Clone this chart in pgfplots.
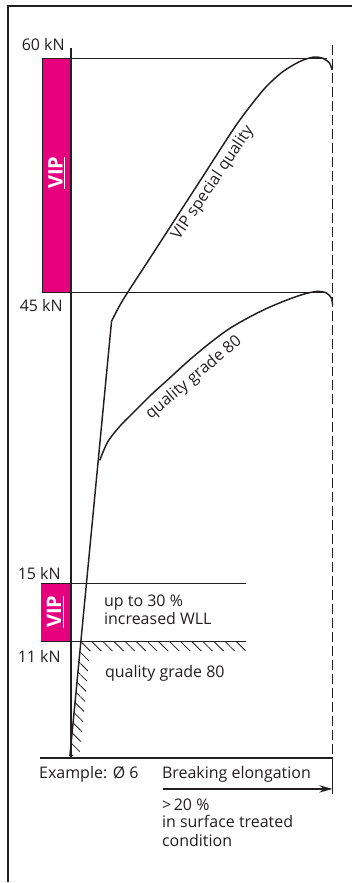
\documentclass[border=0pt]{standalone}
\usepackage{fontspec}
\setmainfont{Open Sans}
\usepackage{pgfplots}
\pgfplotsset{compat=1.18}
\usetikzlibrary{patterns.meta,arrows.meta}
\definecolor{vipmag}{RGB}{230,0,126}
\definecolor{ink}{RGB}{35,31,32}
\begin{document}
\begin{tikzpicture}
\begin{axis}[scale only axis, width=264pt, height=662.25pt,
  xmin=0, xmax=352, ymin=0, ymax=883, y dir=reverse,
  hide axis, clip=false]
\addplot[draw=none] coordinates {(0,0) (352,883)};
% outer frame
\addplot[line width=1.8pt, ink] coordinates {(352,6) (8,6) (8,883)};
% magenta VIP bars
\addplot[fill=vipmag, draw=ink, line width=0.5pt] coordinates {(42,58.5) (71,58.5) (71,292.5) (42,292.5)} -- cycle;
\addplot[fill=vipmag, draw=none] coordinates {(41,584) (71,584) (71,642) (41,642)} -- cycle;
% hatching
\addplot[draw=none, pattern={Lines[angle=-45,distance=5.9pt,line width=0.6pt]}, pattern color=ink]
  coordinates {(81.1,642) (246,642) (246,652) (90,652) (80,757) (70,757)} -- cycle;
% horizontal reference lines
\addplot[ink, line width=0.9pt] coordinates {(42,58.5) (327,58.5)};
\addplot[ink, line width=0.9pt] coordinates {(42,292.5) (326,292.5)};
\addplot[ink, line width=0.8pt] coordinates {(41,584) (246,584)};
\addplot[ink, line width=0.9pt] coordinates {(41,642) (246,642)};
\addplot[ink, line width=1.1pt] coordinates {(40,759) (333,759)};
% vertical axis line
\addplot[ink, line width=0.9pt] coordinates {(71,48) (71,759)};
% dashed limit line
\addplot[ink, line width=0.8pt, dash pattern=on 7.5pt off 3pt] coordinates {(333,45) (333,759)};
\addplot[ink, line width=0.8pt] coordinates {(333,759) (333,795)};
% elastic line
\addplot[ink, line width=1.1pt] coordinates {(70,757) (111.7,321.7)};
% VIP special quality curve
\addplot[ink, line width=1.1pt, smooth, tension=0.5] coordinates {
 (111.7,321.7) (123.3,300) (149.2,260) (175.1,220) (201,180) (233.3,130)
 (250,107) (266.7,86.7) (283.3,71.7) (300,61.7) (313.3,57.3) (323.3,58.3)
 (330,63.3) (332.5,70)};
% quality grade 80 curve
\addplot[ink, line width=1.1pt, smooth, tension=0.5] coordinates {
 (99.8,461) (108.3,441.7) (121.7,425) (135,411.7) (151.7,395) (168.3,380)
 (188.3,361.7) (208.3,345) (228.3,330) (248.3,318.3) (268.3,308.3) (288.3,300)
 (305,294.3) (318.3,291.7) (326.7,293.3) (331.7,298.3) (333,305)};
% arrow
\addplot[ink, line width=0.9pt, -{Stealth[length=10pt,width=5.5pt]}] coordinates {(163,790) (333,790)};
% labels
\begin{scope}[font=\fontsize{12}{14}\selectfont, text=ink, inner sep=0pt]
\node[anchor=base east] at (axis cs:65,50.5) {60 kN};
\node[anchor=base east] at (axis cs:63,312) {45 kN};
\node[anchor=base east] at (axis cs:61,580) {15 kN};
\node[anchor=base east] at (axis cs:61,663) {11 kN};
\node[anchor=base west] at (axis cs:104,607) {up to 30 \%};
\node[anchor=base west] at (axis cs:104,625) {increased WLL};
\node[anchor=base west] at (axis cs:105,678) {quality grade 80};
\node[anchor=base west] at (axis cs:39,780) {Example: Ø 6};
\node[anchor=base west] at (axis cs:162,780) {Breaking elongation};
\node[anchor=base west] at (axis cs:162,812) {>\,20 \%};
\node[anchor=base west] at (axis cs:162,829) {in surface treated};
\node[anchor=base west] at (axis cs:162,848) {condition};
\node[rotate=56] at (axis cs:213.3,183.3) {VIP special quality};
\node[rotate=40] at (axis cs:194.2,378.3) {quality grade 80};
\end{scope}
\node[rotate=90, text=white, font=\bfseries\fontsize{15}{15}\selectfont] at (axis cs:57,173) {\underline{VIP}};
\node[rotate=90, text=white, font=\bfseries\fontsize{15}{15}\selectfont] at (axis cs:55.5,612.5) {\underline{VIP}};
\end{axis}
\end{tikzpicture}
\end{document}
